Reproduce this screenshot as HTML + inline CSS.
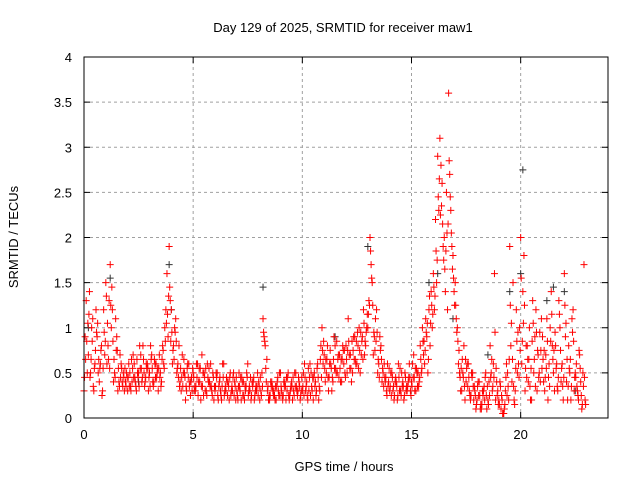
<!DOCTYPE html>
<html><head><meta charset="utf-8">
<style>
html,body{margin:0;padding:0;background:#fff;}
svg{display:block;font-family:"Liberation Sans",sans-serif;}
</style></head>
<body>
<svg id="chart" width="640" height="480" viewBox="0 0 640 480">
<text x="343" y="32" text-anchor="middle" font-size="13">Day 129 of 2025, SRMTID for receiver maw1</text>
<text x="344" y="471" text-anchor="middle" font-size="13">GPS time / hours</text>
<text transform="translate(18,237) rotate(-90)" text-anchor="middle" font-size="13">SRMTID / TECUs</text>
<g id="grid"></g>
<g id="axes"></g>
<g id="marks"></g>
<rect x="84" y="57" width="524" height="361" fill="none" stroke="#000" stroke-width="1"/>
</svg>
<script>
const xTicks=[0,5,10,15,20];
const yTicks=[0,0.5,1,1.5,2,2.5,3,3.5,4];
const yTickLabels=["0","0.5","1","1.5","2","2.5","3","3.5","4"];
const tStart=0, tStep=0.1;
const redA=[0.3,1.3,0.7,0.5,1.1,0.6,0.9,0.4,0.8,1.2,
1.5,0.8,1.7,1.2,0.5,0.9,0.4,0.6,0.5,0.4,
0.3,0.5,0.4,0.6,0.3,0.5,0.7,0.8,0.4,0.6,
0.5,0.7,0.4,0.6,0.3,0.5,0.8,1.0,1.6,1.9,
1.2,0.8,1.1,0.6,0.4,0.7,0.5,0.3,0.6,0.4,
0.5,0.3,0.6,0.4,0.7,0.5,0.3,0.4,0.6,0.5,
0.3,0.5,0.4,0.2,0.6,0.3,0.4,0.5,0.3,0.4,
0.3,0.5,0.2,0.4,0.3,0.6,0.3,0.4,0.2,0.3,
0.4,0.3,1.1,0.8,0.3,0.2,0.4,0.3,0.2,0.3,
0.5,0.2,0.4,0.3,0.2,0.4,0.3,0.5,0.3,0.2,
0.3,0.6,0.4,0.3,0.5,0.2,0.4,0.6,0.3,1.0,
0.7,0.5,0.3,0.6,0.4,0.8,0.5,0.7,0.4,0.6,
0.8,1.1,0.7,0.5,0.9,0.6,1.0,0.7,1.2,0.8,
1.0,2.0,1.5,0.9,1.2,0.6,0.8,0.5,0.4,0.6,
0.3,0.5,0.2,0.4,0.6,0.3,0.4,0.5,0.3,0.6,
0.4,0.7,0.3,0.5,0.8,1.0,0.6,0.9,1.2,1.4,
1.6,2.2,2.9,3.1,2.6,2.0,2.5,3.6,2.3,1.8,
1.5,1.0,0.5,0.3,0.8,0.4,0.6,0.2,0.5,0.3,
0.2,0.4,0.1,0.3,0.5,0.2,0.8,0.3,1.6,0.4,
0.2,0.1,0.05,0.3,0.5,1.9,0.4,0.2,1.2,0.6,
2.0,1.4,0.3,0.8,1.0,0.2,0.5,1.2,0.7,0.4,
0.9,0.3,1.1,0.6,1.4,0.5,0.8,0.3,1.0,0.6,
1.6,0.4,0.8,0.2,1.2,0.5,0.3,0.7,0.1,1.7];
const redB=[0.9,0.5,1.4,1.0,0.3,1.2,0.5,0.6,0.3,0.7,
0.6,1.3,1.0,0.4,1.1,0.3,0.7,0.4,0.3,0.5,
0.6,0.3,0.7,0.4,0.5,0.8,0.4,0.5,0.6,0.3,
0.8,0.4,0.6,0.5,0.7,0.4,0.6,1.2,0.9,1.3,
0.6,1.0,0.5,0.8,0.3,0.5,0.2,0.6,0.4,0.3,
0.3,0.6,0.4,0.2,0.5,0.3,0.6,0.4,0.3,0.2,
0.5,0.2,0.3,0.6,0.3,0.4,0.2,0.3,0.5,0.2,
0.2,0.3,0.4,0.2,0.5,0.3,0.2,0.4,0.3,0.5,
0.2,0.5,0.9,0.4,0.2,0.4,0.3,0.2,0.4,0.5,
0.3,0.4,0.2,0.5,0.3,0.2,0.5,0.3,0.4,0.3,
0.5,0.3,0.2,0.6,0.3,0.5,0.3,0.2,0.8,0.6,
0.4,0.8,0.6,0.3,0.9,0.5,0.7,0.4,0.8,0.5,
0.5,0.7,0.4,0.9,0.6,0.8,0.5,0.9,0.7,1.0,
1.3,1.7,0.7,1.1,0.5,0.9,0.4,0.6,0.3,0.4,
0.5,0.3,0.4,0.2,0.3,0.5,0.2,0.3,0.4,0.3,
0.6,0.3,0.5,0.4,0.5,0.7,1.1,0.5,0.8,1.0,
1.2,1.5,2.3,2.8,1.9,1.4,1.2,2.7,1.9,1.4,
1.1,0.6,0.3,0.5,0.2,0.6,0.3,0.5,0.2,0.1,
0.4,0.1,0.3,0.2,0.1,0.4,0.5,0.6,0.2,0.3,
0.4,0.2,0.1,0.6,0.2,0.8,1.5,0.3,0.5,1.0,
0.6,1.8,0.8,0.4,0.2,1.3,0.9,0.3,0.5,1.1,
0.4,0.7,0.2,1.0,0.8,0.3,0.6,1.3,0.4,0.2,
0.9,0.2,0.5,1.1,0.3,0.6,0.2,0.4,0.5,0.2];
const redC=[0.45,0.85,1.15,0.65,0.35,0.75,1.05,0.55,0.25,0.95,
1.35,0.65,1.25,0.85,0.45,0.75,0.35,0.55,0.45,0.35,
0.45,0.35,0.55,0.45,0.65,0.35,0.55,0.65,0.45,0.55,
0.35,0.55,0.65,0.45,0.55,0.35,0.75,0.85,1.15,1.45,
0.95,0.65,0.85,0.45,0.55,0.35,0.45,0.55,0.35,0.45,
0.45,0.35,0.25,0.55,0.35,0.45,0.25,0.55,0.35,0.45,
0.35,0.25,0.45,0.35,0.25,0.45,0.35,0.25,0.45,0.35,
0.25,0.35,0.45,0.25,0.35,0.25,0.45,0.35,0.25,0.35,
0.35,0.25,0.95,0.55,0.35,0.25,0.35,0.25,0.35,0.25,
0.35,0.25,0.35,0.45,0.25,0.35,0.25,0.35,0.45,0.25,
0.35,0.45,0.25,0.45,0.35,0.45,0.25,0.45,0.65,0.75,
0.55,0.65,0.45,0.55,0.65,0.55,0.65,0.55,0.65,0.75,
0.65,0.85,0.55,0.75,0.65,0.95,0.75,0.85,1.05,0.95,
1.15,1.85,1.25,0.75,0.95,0.45,0.65,0.35,0.45,0.35,
0.35,0.45,0.25,0.35,0.45,0.25,0.35,0.45,0.35,0.45,
0.35,0.45,0.55,0.35,0.65,0.85,0.75,1.05,1.35,1.25,
1.45,1.85,2.45,2.25,2.15,1.65,2.05,2.85,2.05,1.55,
1.25,0.85,0.45,0.65,0.35,0.55,0.45,0.25,0.35,0.25,
0.35,0.25,0.15,0.35,0.25,0.15,0.45,0.35,0.95,0.25,
0.15,0.25,0.05,0.45,0.35,1.25,0.65,0.15,0.85,0.45,
1.55,1.05,0.55,0.65,0.35,0.85,0.65,0.95,0.45,0.75,
0.65,0.45,0.85,0.35,1.15,0.75,0.55,0.45,0.75,0.35,
1.25,0.65,0.55,0.35,0.85,0.45,0.25,0.55,0.15,0.45];
const redD=[0.65,1.05,0.45,0.85,0.55,0.95,0.65,0.75,0.55,0.85,
1.05,0.55,1.45,0.65,0.75,0.55,0.45,0.35,0.55,0.45,
0.35,0.65,0.45,0.35,0.45,0.55,0.45,0.35,0.55,0.45,
0.65,0.35,0.45,0.55,0.45,0.65,0.55,1.05,1.35,0.85,
0.75,0.95,0.55,0.35,0.45,0.65,0.35,0.45,0.25,0.55,
0.35,0.45,0.55,0.35,0.25,0.55,0.45,0.35,0.25,0.35,
0.45,0.35,0.25,0.45,0.35,0.25,0.45,0.35,0.25,0.45,
0.35,0.45,0.25,0.35,0.45,0.35,0.25,0.45,0.35,0.25,
0.45,0.35,0.85,0.65,0.25,0.35,0.25,0.35,0.45,0.25,
0.25,0.35,0.45,0.25,0.35,0.45,0.35,0.25,0.35,0.45,
0.25,0.35,0.55,0.25,0.45,0.35,0.55,0.35,0.45,0.85,
0.65,0.45,0.75,0.45,0.55,0.85,0.45,0.65,0.75,0.45,
0.75,0.55,0.85,0.65,0.85,0.55,0.95,0.65,0.85,1.15,
1.25,1.55,0.95,0.85,0.65,0.75,0.55,0.45,0.25,0.55,
0.25,0.35,0.45,0.25,0.55,0.35,0.25,0.35,0.45,0.25,
0.45,0.55,0.35,0.45,0.55,0.85,0.95,0.65,1.05,1.15,
1.35,1.75,2.65,2.35,1.75,1.85,2.15,2.45,1.65,1.25,
0.95,0.75,0.55,0.45,0.65,0.35,0.25,0.45,0.35,0.15,
0.25,0.15,0.25,0.45,0.35,0.25,0.65,0.45,0.55,0.15,
0.35,0.05,0.15,0.25,0.65,1.05,0.35,0.55,0.95,0.75,
0.85,1.25,0.45,0.65,0.55,1.05,0.35,0.75,0.95,0.55,
0.75,0.55,0.45,0.85,0.65,0.95,0.35,1.15,0.55,0.45,
1.05,0.35,0.65,0.95,0.45,0.35,0.75,0.25,0.35,0.15];
const blackT=[0.2,1.2,2.5,3.9,4.0,8.2,11.5,13.0,15.8,16.2,16.9,18.5,19.5,20.0,20.1,21.2,21.5,22.0,22.5];
const blackV=[1.0,1.55,0.4,1.7,1.2,1.45,0.9,1.9,1.5,1.6,1.1,0.7,1.4,1.6,2.75,1.3,1.45,1.4,0.3];

const X0=84,X1=608,Y0=418,Y1=57,XMAX=24,YMAX=4;
function xs(v){return X0+(v/XMAX)*(X1-X0);}
function ys(v){return Y0-(v/YMAX)*(Y0-Y1);}
const NS="http://www.w3.org/2000/svg";
const grid=document.getElementById('grid'),axes=document.getElementById('axes'),marks=document.getElementById('marks');
function mk(tag,at,parent){const e=document.createElementNS(NS,tag);for(const k in at)e.setAttribute(k,at[k]);parent.appendChild(e);return e;}
xTicks.forEach(function(t){
  const x=xs(t);
  if(t>0){const g=mk('line',{x1:x,y1:Y0,x2:x,y2:Y1,stroke:'#a0a0a0','stroke-dasharray':'3,3'},grid);
  
  }
  const tk=mk('path',{d:'M'+x+' '+Y0+'v-6M'+x+' '+Y1+'v6',stroke:'#000'},axes);
  
  
  const lb=mk('text',{x:x,y:Y0+21,'text-anchor':'middle','font-size':'13'},axes);lb.textContent=String(t);
  
  
});
yTicks.forEach(function(t,i){
  const y=ys(t);
  if(t>0&&t<YMAX){const g=mk('line',{x1:X0,y1:y,x2:X1,y2:y,stroke:'#a0a0a0','stroke-dasharray':'3,3'},grid);
  
  }
  const tk=mk('path',{d:'M'+X0+' '+y+'h6M'+X1+' '+y+'h-6',stroke:'#000'},axes);
  
  
  const lb=mk('text',{x:X0-12,y:y+5,'text-anchor':'end','font-size':'13'},axes);lb.textContent=yTickLabels[i];
  
  
});
function plus(t,v,col,name){
  const x=xs(t),y=ys(v);
  const p=mk('path',{d:'M'+(x-3.5)+' '+y+'h7M'+x+' '+(y-3.5)+'v7',stroke:col,'stroke-width':'1'},marks);
  
  
}
blackT.forEach(function(t,i){plus(t,blackV[i],'#333','black-point');});
redA.forEach(function(v,i){plus(tStart+i*tStep,v,'#ff0000','red-point');});
redB.forEach(function(v,i){plus(tStart+i*tStep+0.05,v,'#ff0000','red-point');});
redC.forEach(function(v,i){plus(tStart+i*tStep+0.025,v,'#ff0000','red-point');});
redD.forEach(function(v,i){plus(tStart+i*tStep+0.075,v,'#ff0000','red-point');});
</script>
</body></html>
